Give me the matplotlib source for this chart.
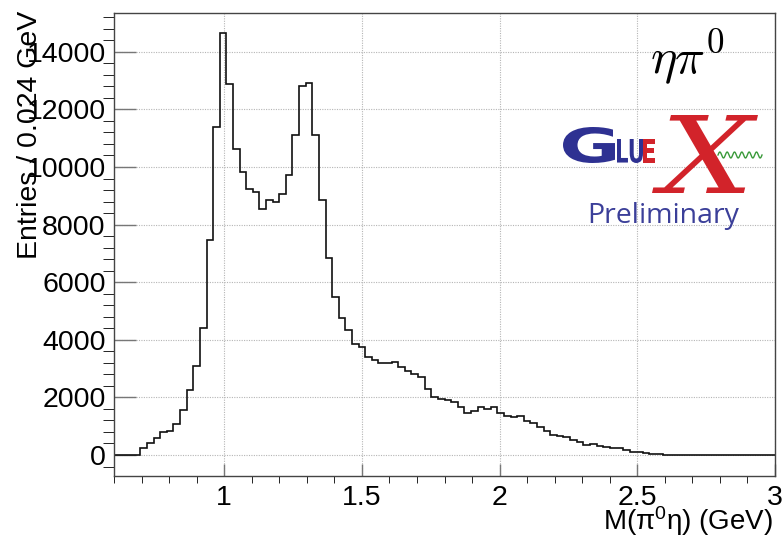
import numpy as np
import matplotlib
matplotlib.use("Agg")
import matplotlib.pyplot as plt
from matplotlib.ticker import MultipleLocator
from matplotlib.textpath import TextPath
from matplotlib.font_manager import FontProperties
from matplotlib.patches import PathPatch
from matplotlib.transforms import Affine2D, IdentityTransform
from matplotlib.lines import Line2D

plt.rcParams['font.family'] = ['Liberation Sans', 'DejaVu Sans']
plt.rcParams['mathtext.fontset'] = 'custom'
plt.rcParams['mathtext.rm'] = 'Liberation Sans'
plt.rcParams['mathtext.it'] = 'Liberation Sans:italic'
plt.rcParams['mathtext.bf'] = 'Liberation Sans:bold'

# histogram: 100 bins of 0.024 GeV from 0.6 to 3.0
x_lo, x_hi, n_bins = 0.6, 3.0, 100
counts = [
    0, 0, 0, 0, 250, 430, 590, 800, 830, 1090,
    1550, 2270, 3080, 4410, 7450, 11400, 14640, 12870, 10610, 9810,
    9250, 9130, 8550, 8860, 8770, 9050, 9730, 11100, 12830, 12930,
    11100, 8840, 6850, 5470, 4750, 4350, 3850, 3760, 3410, 3300,
    3180, 3200, 3240, 3040, 2930, 2810, 2720, 2290, 2000, 1940,
    1910, 1830, 1650, 1450, 1540, 1650, 1600, 1680, 1460, 1370,
    1310, 1340, 1190, 1110, 960, 820, 710, 660, 610, 520,
    440, 350, 380, 320, 270, 230, 230, 175, 120, 95,
    70, 45, 25, 8, 0, 0, 0, 0, 0, 0,
    0, 0, 0, 0, 0, 0, 0, 0, 0, 0,
]
edges = np.linspace(x_lo, x_hi, n_bins + 1)

W, H = 782, 535
fig = plt.figure(figsize=(W / 100, H / 100), dpi=100)
ax = fig.add_axes([114 / W, 1 - 475.5 / H, 661 / W, 462.8 / H])

ax.stairs(counts, edges, color='#111111', lw=1.2, baseline=None)

ax.set_xlim(x_lo, x_hi)
ax.set_ylim(-712, 15358)
ax.xaxis.set_major_locator(MultipleLocator(0.5))
ax.xaxis.set_minor_locator(MultipleLocator(0.1))
ax.yaxis.set_major_locator(MultipleLocator(2000))
ax.yaxis.set_minor_locator(MultipleLocator(400))
ax.xaxis.set_major_formatter(plt.FuncFormatter(lambda v, p: f"{v:g}"))

ax.grid(True, which='major', color='#b5b5b5', ls=(0, (1, 1.2)), lw=0.8)
ax.set_axisbelow(True)

ax.tick_params(direction='in', top=False, right=False, color='#777777',
               width=1.0, labelsize=20.5)
ax.tick_params(axis='x', which='major', length=9, pad=7)
ax.tick_params(axis='x', which='minor', length=4.8)
ax.tick_params(axis='y', which='major', length=16, pad=6)
ax.tick_params(axis='y', which='minor', length=8)
for s in ax.spines.values():
    s.set_color('#444444')
    s.set_linewidth(1.0)

ax.set_xlabel(r"M($\mathrm{\pi}^{0}\mathrm{\eta}$) (GeV)", fontsize=20, loc='right')
ax.xaxis.set_label_coords(0.997, -0.062)
ax.set_ylabel("Entries / 0.024 GeV", fontsize=20.5, loc='top')
ax.yaxis.set_label_coords(-0.108, 1.005)

# title sits above the canvas, only its bottom edge shows
fig.text(423 / W, 1 + 6 / H, "(ηp)", fontsize=20, ha='center', va='baseline')

# channel label
fig.text(650 / W, 1 - 74 / H, r"$\eta\pi^{0}$", fontsize=36, math_fontfamily='cm',
         ha='left', va='baseline')


def glyph(s, left, top, w, h, color, prop):
    # draw a text outline stretched into a pixel box (top-left origin)
    tp = TextPath((0, 0), s, size=100, prop=prop)
    ext = tp.get_extents()
    tr = (Affine2D().translate(-ext.x0, -ext.y0)
          .scale(w / ext.width, h / ext.height)
          .translate(left, H - top - h))
    fig.add_artist(PathPatch(tr.transform_path(tp), facecolor=color,
                             edgecolor='none', transform=IdentityTransform()))


blue = '#2e3192'
red = '#d2232a'
glyph("G", 563, 127, 52, 36, blue, FontProperties(family='DejaVu Sans', weight='bold'))
glyph("LU", 617, 139, 26, 24, blue, FontProperties(family='DejaVu Sans', weight='bold'))
glyph("E", 643, 139, 12, 24, red, FontProperties(family='DejaVu Sans', weight='bold'))
glyph("X", 652, 115, 106, 78, red,
      FontProperties(family='DejaVu Serif', style='italic'))

wx = np.linspace(718, 762, 200)
wy = H - 155 + 3 * np.sin((wx - 718) / 44 * 6 * 2 * np.pi)
fig.add_artist(Line2D(wx, wy, color='#3a9a3a', lw=1.0, transform=IdentityTransform()))

fig.text(663 / W, 1 - 223 / H, "Preliminary", fontsize=20.5, family='Open Sans',
         color='#3b3f99', ha='center', va='baseline')

fig.savefig("out.png", dpi=100)
